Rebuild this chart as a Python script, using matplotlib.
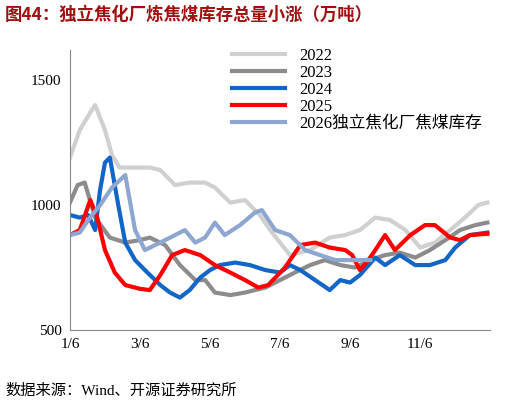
import matplotlib.pyplot as plt
from matplotlib.lines import Line2D

# x: months since 1/6, y: 万吨
x2022 = [0, .14, .29, .36, .5, .6, .71, .86, 1.0, 1.14, 1.29, 1.5, 1.71, 1.93, 2.07, 2.29, 2.5, 2.71, 2.86, 3.0, 3.14, 3.43, 3.71, 3.93, 4.14, 4.36, 4.57, 4.79, 5.0, 5.21, 5.43, 5.64, 5.83, 5.96]
v2022 = [1190, 1300, 1370, 1400, 1300, 1200, 1150, 1150, 1150, 1150, 1140, 1080, 1090, 1090, 1070, 1010, 1020, 960, 900, 850, 800, 820, 870, 880, 900, 950, 940, 900, 830, 850, 900, 950, 1000, 1010]
x2023 = [0, .11, .21, .36, .57, .79, 1.0, 1.14, 1.36, 1.57, 1.79, 1.93, 2.07, 2.29, 2.5, 2.64, 2.79, 3.0, 3.21, 3.43, 3.64, 3.86, 4.07, 4.29, 4.5, 4.71, 4.93, 5.14, 5.36, 5.57, 5.79, 5.96]
v2023 = [1010, 1080, 1090, 950, 870, 850, 860, 870, 840, 760, 700, 700, 650, 640, 650, 660, 670, 700, 730, 760, 780, 760, 750, 780, 800, 810, 790, 820, 860, 900, 920, 930]
x2024 = [0, .14, .26, .36, .43, .5, .57, .69, .79, .93, 1.07, 1.29, 1.43, 1.57, 1.71, 1.86, 2.0, 2.14, 2.36, 2.57, 2.79, 3.0, 3.14, 3.29, 3.5, 3.71, 3.86, 4.0, 4.14, 4.36, 4.5, 4.71, 4.93, 5.14, 5.36, 5.5, 5.71, 5.96]
v2024 = [960, 950, 960, 900, 1060, 1170, 1190, 1000, 850, 780, 740, 680, 650, 630, 660, 710, 740, 760, 770, 760, 740, 730, 760, 740, 700, 660, 700, 690, 720, 790, 760, 800, 760, 760, 780, 830, 880, 890]
x2025 = [0, .14, .29, .39, .5, .64, .79, 1.0, 1.14, 1.29, 1.46, 1.64, 1.86, 2.07, 2.29, 2.5, 2.69, 2.83, 3.07, 3.29, 3.5, 3.71, 3.93, 4.03, 4.14, 4.26, 4.36, 4.5, 4.64, 4.86, 5.07, 5.21, 5.43, 5.57, 5.71, 5.96]
v2025 = [880, 900, 1020, 950, 820, 730, 680, 665, 660, 720, 800, 820, 800, 760, 730, 700, 670, 680, 750, 840, 850, 830, 820, 800, 740, 780, 820, 880, 820, 880, 920, 920, 870, 860, 880, 885]
x2026 = [0, .14, .26, .43, .6, .79, .93, 1.07, 1.29, 1.5, 1.64, 1.79, 1.93, 2.07, 2.21, 2.43, 2.64, 2.74, 2.93, 3.14, 3.36, 3.57, 3.79, 4.07, 4.29]
v2026 = [880, 890, 940, 1000, 1070, 1120, 900, 820, 850, 880, 900, 850, 870, 930, 880, 920, 970, 980, 900, 880, 820, 800, 780, 780, 780]

series = [("2022", x2022, v2022, "#d0d0d0"),
          ("2023", x2023, v2023, "#8c8c8c"),
          ("2024", x2024, v2024, "#1166c8"),
          ("2025", x2025, v2025, "#ff0000"),
          ("2026独立焦化厂焦煤库存", x2026, v2026, "#8ea7d0")]
tick_pos = [0, 1, 2, 3, 4, 5]
tick_labels = ["1/6", "3/6", "5/6", "7/6", "9/6", "11/6"]

fam = ["Liberation Serif", "Noto Sans CJK SC"]
fig = plt.figure(figsize=(5.22, 4.07), dpi=100)
ax = fig.add_axes([0.134, 0.189, 0.805, 0.688])
for name, xs, vs, c in series:
    ax.plot(xs, vs, color=c, lw=3, label=name)

ax.set_xlim(0, 6.0)
ax.set_ylim(500, 1620)
ax.set_yticks([500, 1000, 1500])
ax.set_xticks(tick_pos)
ax.set_xticklabels(tick_labels)
for lab in ax.get_xticklabels() + ax.get_yticklabels():
    lab.set_family(fam)
    lab.set_fontsize(11)
ax.tick_params(length=0, pad=6)
for s in ["top", "right"]:
    ax.spines[s].set_visible(False)
ax.spines["left"].set_color("#888888")
ax.spines["bottom"].set_color("#888888")

handles = [Line2D([], [], color=c, lw=3) for _, _, _, c in series]
ax.legend(handles, [s[0] for s in series], loc="upper left", bbox_to_anchor=(0.37, 1.03),
          frameon=False, handlelength=3.2, labelspacing=0.05, borderaxespad=0,
          prop={"family": fam, "size": 12})

fig.text(0.01, 0.95, "图44：独立焦化厂炼焦煤库存总量小涨（万吨）", color="#a01010",
         fontsize=12.5, fontweight="bold", family=["Noto Sans CJK SC"])
fig.text(0.01, 0.03, "数据来源：Wind、开源证券研究所", fontsize=11, family=fam)
fig.savefig("out.png")
